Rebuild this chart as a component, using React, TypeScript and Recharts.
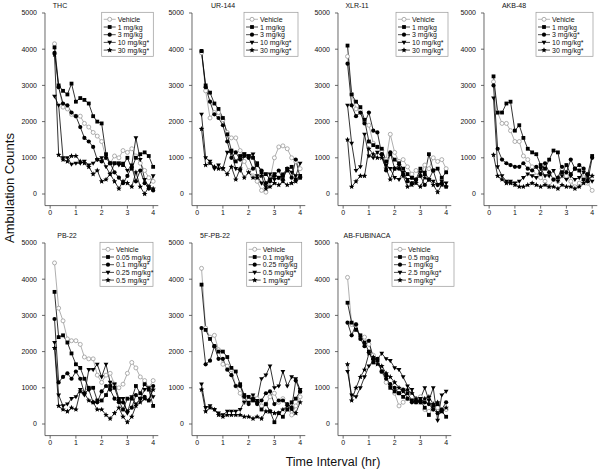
import React from 'react'
import { LineChart, Line, XAxis, YAxis } from 'recharts'

// ── data ──────────────────────────────────────────────────────────────────────

const TIMES = [0.17, 0.33, 0.5, 0.67, 0.83, 1, 1.17, 1.33, 1.5, 1.67, 1.83, 2,
  2.17, 2.33, 2.5, 2.67, 2.83, 3, 3.17, 3.33, 3.5, 3.67, 3.83, 4]
const X_TICKS = [0, 1, 2, 3, 4]
const Y_TICKS = [0, 1000, 2000, 3000, 4000, 5000]

const TITLES = ['THC', 'UR-144', 'XLR-11', 'AKB-48', 'PB-22', '5F-PB-22', 'AB-FUBINACA']

const DOSES = [
  ['Vehicle', '1 mg/kg', '3 mg/kg', '10 mg/kg*', '30 mg/kg*'],
  ['Vehicle', '1 mg/kg', '3 mg/kg', '10 mg/kg*', '30 mg/kg*'],
  ['Vehicle', '1 mg/kg', '3 mg/kg', '10 mg/kg*', '30 mg/kg*'],
  ['Vehicle', '1 mg/kg', '3 mg/kg*', '10 mg/kg*', '30 mg/kg*'],
  ['Vehicle', '0.05 mg/kg', '0.1 mg/kg*', '0.25 mg/kg*', '0.5 mg/kg*'],
  ['Vehicle', '0.1 mg/kg', '0.25 mg/kg', '0.5 mg/kg*', '1 mg/kg*'],
  ['Vehicle', '0.5 mg/kg', '1 mg/kg', '2.5 mg/kg*', '5 mg/kg*'],
]

const THC = [
  [4150, 2950, 2400, 2350, 2200, 2150, 2150, 1950, 1850, 1700, 1600, 1450, 1000, 850, 1050, 1000, 1200, 1150, 1250, 1050, 850, 650, 450, 350],
  [4050, 3000, 2850, 2750, 3050, 2550, 2650, 2600, 2500, 2150, 2000, 1950, 1100, 850, 850, 850, 800, 1000, 700, 1000, 1100, 1150, 1050, 750],
  [3900, 2950, 2500, 2450, 2250, 2150, 1850, 1550, 1450, 1300, 950, 900, 1000, 850, 600, 450, 300, 500, 750, 350, 650, 300, 150, 100],
  [2700, 2450, 1000, 1000, 820, 850, 850, 900, 800, 850, 950, 1000, 750, 550, 850, 800, 850, 650, 800, 1550, 950, 400, 200, 500],
  [3850, 1080, 950, 900, 1050, 1050, 900, 850, 750, 550, 650, 350, 400, 550, 350, 150, 350, 300, 200, 600, 200, 0, 200, 150],
]
const UR144 = [
  [3900, 2850, 2100, 2250, 2250, 2050, 1700, 1550, 1550, 1200, 900, 650, 500, 350, 100, 50, 400, 1000, 1300, 1330, 1250, 1000, 900, 700],
  [3950, 3000, 2800, 2500, 2350, 2100, 1650, 1200, 900, 1050, 1100, 1050, 1000, 850, 600, 550, 400, 550, 450, 500, 650, 750, 400, 500],
  [3950, 2950, 2550, 2200, 2100, 1900, 1450, 1000, 1150, 950, 1050, 1000, 700, 800, 650, 300, 350, 500, 650, 400, 700, 450, 950, 450],
  [2200, 1000, 900, 700, 800, 700, 1150, 1150, 700, 650, 1100, 1050, 1100, 500, 300, 200, 550, 400, 450, 550, 700, 600, 500, 850],
  [1800, 800, 850, 750, 700, 700, 550, 750, 400, 700, 450, 600, 450, 450, 500, 150, 200, 300, 250, 350, 250, 300, 350, 450],
]
const XLR11 = [
  [3800, 2750, 2350, 2300, 2000, 1900, 1400, 1300, 1200, 950, 1650, 1150, 900, 950, 750, 550, 650, 500, 800, 700, 1000, 900, 950, 700],
  [4100, 2750, 2550, 2400, 2050, 1450, 1350, 1300, 1250, 900, 1100, 950, 850, 700, 550, 450, 400, 700, 550, 1100, 650, 700, 450, 600],
  [3600, 2450, 2150, 2250, 1950, 2250, 1750, 1700, 1100, 650, 1150, 700, 700, 550, 350, 300, 400, 500, 250, 400, 650, 250, 300, 200],
  [2450, 1400, 650, 750, 1650, 1050, 1000, 1150, 1050, 800, 700, 450, 400, 600, 400, 450, 350, 600, 600, 400, 350, 250, 350, 300],
  [1500, 200, 350, 500, 500, 1250, 1100, 1000, 1000, 700, 400, 700, 800, 500, 200, 250, 300, 200, 450, 400, 250, 50, 250, 200],
]
const AKB48 = [
  [3100, 2250, 1950, 1950, 1750, 1450, 1450, 1050, 950, 750, 500, 450, 350, 200, 400, 350, 700, 500, 350, 200, 300, 450, 300, 100],
  [3250, 2250, 2250, 2500, 2550, 1750, 1900, 1550, 1250, 1150, 1100, 800, 700, 950, 1200, 1150, 600, 800, 550, 700, 650, 400, 550, 1050],
  [3000, 1250, 950, 850, 800, 750, 750, 850, 700, 650, 750, 550, 850, 600, 400, 450, 750, 600, 950, 700, 800, 700, 350, 1000],
  [2650, 750, 500, 350, 350, 300, 350, 450, 550, 500, 450, 700, 500, 500, 650, 350, 500, 400, 500, 400, 450, 600, 500, 350],
  [1080, 500, 400, 300, 300, 250, 200, 200, 250, 300, 250, 200, 250, 200, 200, 150, 250, 200, 200, 150, 200, 300, 400, 500],
]
const PB22 = [
  [4450, 3200, 2850, 2350, 2300, 2300, 2200, 1850, 1800, 1800, 1350, 1150, 1350, 1400, 1100, 1000, 1100, 1400, 1700, 1550, 1300, 1200, 1000, 1200],
  [3650, 2400, 2450, 2250, 1950, 1650, 1550, 1250, 1000, 1000, 650, 650, 800, 1050, 1000, 650, 400, 700, 700, 1050, 850, 1100, 950, 500],
  [2900, 1150, 1300, 1400, 1250, 1450, 1250, 850, 950, 600, 600, 900, 1050, 950, 700, 600, 600, 350, 450, 800, 700, 750, 650, 1050],
  [2250, 800, 500, 550, 700, 750, 950, 800, 1500, 1500, 1650, 1300, 1650, 1150, 1100, 700, 700, 300, 750, 550, 700, 950, 1000, 750],
  [2100, 500, 400, 350, 450, 400, 900, 850, 650, 600, 400, 400, 250, 150, 300, 450, 200, 50, 200, 500, 600, 700, 650, 950],
]
const F5PB22 = [
  [4300, 2650, 2400, 2450, 2050, 1650, 1600, 1500, 1050, 850, 600, 650, 750, 700, 500, 550, 750, 850, 600, 700, 450, 250, 500, 750],
  [3850, 2600, 2350, 2150, 2000, 2000, 1850, 1550, 1450, 1100, 800, 750, 650, 600, 400, 550, 350, 50, 300, 200, 400, 600, 700, 900],
  [2650, 1650, 1750, 2150, 1800, 1800, 1500, 1350, 1050, 1050, 750, 550, 700, 550, 650, 850, 900, 550, 650, 650, 550, 450, 1200, 900],
  [1100, 450, 500, 400, 300, 250, 350, 350, 350, 400, 600, 600, 800, 650, 1250, 1350, 1600, 1000, 1050, 1450, 1050, 1300, 1250, 950],
  [950, 350, 450, 400, 250, 200, 250, 250, 250, 250, 200, 200, 150, 200, 150, 350, 350, 300, 300, 400, 500, 400, 300, 600],
]
const ABFUB = [
  [4050, 2750, 2750, 2400, 2400, 2200, 1900, 1750, 1450, 1150, 1050, 850, 500, 600, 700, 650, 700, 750, 400, 350, 550, 450, 400, 400],
  [3350, 2800, 2600, 2450, 2250, 2000, 1700, 1750, 1450, 1350, 1000, 900, 850, 750, 850, 650, 600, 650, 450, 250, 500, 550, 350, 200],
  [2800, 2450, 2750, 2350, 2150, 2300, 1800, 1800, 1450, 1250, 1100, 1000, 850, 950, 700, 600, 650, 600, 600, 550, 400, 300, 400, 600],
  [1450, 800, 750, 1000, 1300, 1600, 1750, 1800, 1950, 1800, 1750, 1550, 1500, 1300, 1050, 950, 600, 700, 1000, 650, 1000, 100, 800, 900],
  [1650, 650, 1000, 1300, 1500, 1950, 1850, 1650, 1600, 1400, 1300, 1150, 1000, 900, 950, 850, 700, 600, 700, 750, 550, 600, 350, 450],
]
const SERIES = [THC, UR144, XLR11, AKB48, PB22, F5PB22, ABFUB]

// ── layout ────────────────────────────────────────────────────────────────────

const FONT = '"Liberation Sans", Arial, sans-serif'
const GREY = '#9a9a9a'
const COL_LEFT = [45, 192, 338, 484]
const ROW_TOP = [13, 243]
const PLOT_W = 113.3
const PLOT_H = 192.6
const Y_W = 40
const M_TOP = 8
const X_H = 18

// per panel: title centre x, legend box left / width
const TITLE_X = [60, 223, 357, 514, 67, 215, 367]
const LEG_LEFT = [101.7, 244, 396, 536, 100, 246.7, 392]
const LEG_W = [51.6, 54, 52, 57, 53, 55, 62]
const LEG_H = 44

function Marker({ kind, x, y }: { kind: number; x: number; y: number }) {
  if (kind === 0) return <circle cx={x} cy={y} r={2} fill="#fff" stroke={GREY} strokeWidth={0.8} />
  if (kind === 1) return <rect x={x - 1.9} y={y - 1.9} width={3.8} height={3.8} fill="#000" />
  if (kind === 2) return <circle cx={x} cy={y} r={2.1} fill="#000" />
  if (kind === 3) return <polygon points={`${x - 2.4},${y - 1.6} ${x + 2.4},${y - 1.6} ${x},${y + 2.5}`} fill="#000" />
  const pts: string[] = []
  for (let k = 0; k < 10; k++) {
    const r = k % 2 === 0 ? 2.9 : 1.3
    const a = -Math.PI / 2 + (k * Math.PI) / 5
    pts.push(`${x + r * Math.cos(a)},${y + r * Math.sin(a)}`)
  }
  return <polygon points={pts.join(' ')} fill="#000" />
}

const dotFor = (kind: number) => (p: any) => {
  const { cx, cy, index } = p
  if (cx == null || cy == null) return <g key={`e${index}`} />
  return <g key={`d${index}`}><Marker kind={kind} x={cx} y={cy} /></g>
}

function Panel({ idx }: { idx: number }) {
  const col = idx % 4
  const row = Math.floor(idx / 4)
  const series = SERIES[idx]
  const rows = TIMES.map((t, i) => {
    const r: Record<string, number> = { t }
    series.forEach((s, k) => { r[`s${k}`] = s[i] })
    return r
  })
  const tick = { fontSize: 7, fill: '#111', fontFamily: FONT }
  return (
    <div style={{ position: 'absolute', left: COL_LEFT[col] - Y_W, top: ROW_TOP[row] - M_TOP }}>
      <LineChart width={Y_W + PLOT_W + 4} height={M_TOP + PLOT_H + X_H} data={rows}
        margin={{ top: M_TOP, right: 4, bottom: 0, left: 0 }}>
        <XAxis dataKey="t" type="number" domain={[-0.2, 4.2]} ticks={X_TICKS} height={X_H}
          tick={tick} tickSize={3} tickMargin={1} stroke="#444" strokeWidth={0.8} />
        <YAxis type="number" domain={[-320, 5000]} ticks={Y_TICKS} width={Y_W}
          tick={tick} tickSize={3} tickMargin={5} stroke="#444" strokeWidth={0.8} allowDataOverflow />
        {series.map((_, k) => (
          <Line key={k} dataKey={`s${k}`} type="linear" isAnimationActive={false}
            stroke={k === 0 ? GREY : '#000'} strokeWidth={0.8}
            dot={dotFor(k)} activeDot={false} />
        ))}
      </LineChart>
    </div>
  )
}

function Overlay() {
  return (
    <svg width={600} height={471} style={{ position: 'absolute', left: 0, top: 0, pointerEvents: 'none' }}
      fontFamily={FONT}>
      {TITLES.map((title, i) => {
        const row = Math.floor(i / 4)
        const top = ROW_TOP[row]
        const L = LEG_LEFT[i]
        const T = top - 0.7
        return (
          <g key={title}>
            <text x={TITLE_X[i]} y={top - 5.5} fontSize={7} textAnchor="middle" fill="#111">{title}</text>
            <rect x={L} y={T} width={LEG_W[i]} height={LEG_H} fill="none" stroke="#999" strokeWidth={0.7} />
            {DOSES[i].map((d, k) => {
              const y = T + 7 + k * 7.7
              return (
                <g key={d}>
                  <line x1={L + 2} x2={L + 14} y1={y} y2={y} stroke={k === 0 ? GREY : '#000'} strokeWidth={0.7} />
                  <Marker kind={k} x={L + 8} y={y} />
                  <text x={L + 16} y={y + 2.5} fontSize={7} fill="#111">{d}</text>
                </g>
              )
            })}
          </g>
        )
      })}
      <text x={11} y={188} fontSize={13} textAnchor="middle" fill="#111"
        transform="rotate(-90 11 188)" dominantBaseline="middle">Ambulation Counts</text>
      <text x={333} y={466} fontSize={12.5} textAnchor="middle" fill="#111">Time Interval (hr)</text>
    </svg>
  )
}

export default function App() {
  return (
    <div style={{ position: 'absolute', left: 0, top: 0, width: 600, height: 471, background: '#fff' }}>
      {TITLES.map((_, i) => <Panel key={i} idx={i} />)}
      <Overlay />
    </div>
  )
}
